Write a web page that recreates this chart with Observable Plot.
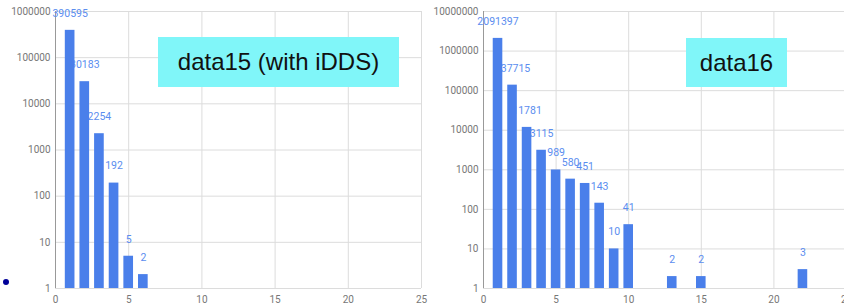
<!DOCTYPE html>
<html>
<head>
<meta charset="utf-8">
<script src="https://cdn.jsdelivr.net/npm/d3@7"></script>
<script src="https://cdn.jsdelivr.net/npm/@observablehq/plot@0.6"></script>
<style>
  html, body { margin: 0; padding: 0; background: #fff; overflow: hidden; }
  #wrap { position: relative; width: 844px; height: 308px; overflow: hidden; }
  .panel { position: absolute; top: 0; }
  .box { position: absolute; background: #80f6f9; color: #111; font-family: "Liberation Sans", Arial, sans-serif; font-size: 24px; display: flex; align-items: center; justify-content: center; }
  .dot { position: absolute; width: 6px; height: 6px; border-radius: 50%; background: #000099; }
</style>
</head>
<body>
<div id="wrap"></div>
<script>
// data15 (with iDDS)
const x15 = [1, 2, 3, 4, 5, 6];
const v15 = [390595, 30183, 2254, 192, 5, 2];
// data16
const x16 = [1, 2, 3, 4, 5, 6, 7, 8, 9, 10, 13, 15, 22];
const v16 = [2091397, 137715, 11781, 3115, 989, 580, 451, 143, 10, 41, 2, 2, 3];
// ticks
const xTicks = [0, 5, 10, 15, 20, 25];
const yTicks15 = [1, 10, 100, 1000, 10000, 100000, 1000000];
const yTicks16 = [1, 10, 100, 1000, 10000, 100000, 1000000, 10000000];
const titles = ["data15 (with iDDS)", "data16"];

function panel(xs, vs, yTicks, width, marginLeft, marginRight) {
  const data = xs.map((x, i) => ({x, v: vs[i]}));
  return Plot.plot({
    width, height: 308,
    marginLeft, marginRight, marginTop: 11, marginBottom: 20,
    style: {fontFamily: "'Liberation Sans Narrow', Roboto, sans-serif", fontSize: "10px", color: "#777", background: "transparent", overflow: "visible", maxWidth: "none"},
    x: {domain: [0, 25], label: null},
    y: {type: "log", domain: [1, yTicks[yTicks.length - 1]], label: null},
    marks: [
      Plot.gridY(yTicks, {stroke: "#dcdcdc", strokeOpacity: 1}),
      Plot.gridX(xTicks.slice(1), {stroke: "#dcdcdc", strokeOpacity: 1}),
      Plot.ruleX([0], {stroke: "#999"}),
      Plot.axisX(xTicks, {tickSize: 0, tickPadding: 7, tickFormat: d => String(d), fontSize: 10, label: null}),
      Plot.axisY(yTicks, {tickSize: 0, tickPadding: 5, tickFormat: d => String(d), fontSize: 10, label: null}),
      Plot.text(data, {x: "x", y: "v", text: d => String(d.v), dy: -17, fill: "#5b8def", fontSize: 10.5}),
      Plot.rectY(data, {x1: d => d.x - 0.33, x2: d => d.x + 0.33, y1: 1, y2: "v", fill: "#4a7fea"})
    ]
  });
}

const wrap = document.getElementById("wrap");
const p1 = panel(x15, v15, yTicks15, 430, 55, 9);
p1.classList.add("panel"); p1.style.left = "0px";
const p2 = panel(x16, v16, yTicks16, 416, 53, 0);
p2.classList.add("panel"); p2.style.left = "430px";
wrap.appendChild(p1);
wrap.appendChild(p2);

function box(text, l, t, w, h) {
  const d = document.createElement("div");
  d.className = "box";
  d.textContent = text;
  Object.assign(d.style, {left: l + "px", top: t + "px", width: w + "px", height: h + "px"});
  wrap.appendChild(d);
}
box(titles[0], 158, 37, 241, 50);
box(titles[1], 686, 38, 101, 49);

const dot = document.createElement("div");
dot.className = "dot";
Object.assign(dot.style, {left: "3px", top: "279px"});
wrap.appendChild(dot);
</script>
</body>
</html>
